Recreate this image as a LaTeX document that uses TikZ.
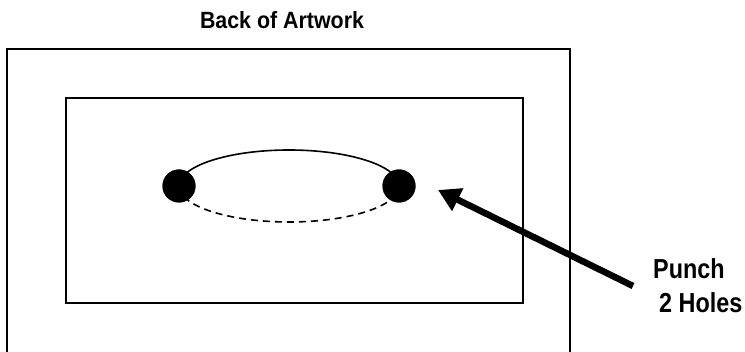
\documentclass[tikz,border=0pt]{standalone}
\usepackage{fontspec}
\setmainfont{Liberation Sans}
\usetikzlibrary{arrows.meta}
\tikzset{
  frame/.style={line width=2pt},
  hole/.style={circle, fill=black, inner sep=0pt, minimum size=33pt},
  lbl/.style={inner sep=0pt, font=\bfseries},
  punch/.style={line width=6.5pt, -{Triangle[length=22pt,width=24pt]}}
}
\begin{document}
\begin{tikzpicture}[x=1pt,y=1pt]
\useasboundingbox (0,0) rectangle (745,352);
% outer frame (open at bottom)
\draw[frame] (7,-2) -- (7,303) -- (570,303) -- (570,-2);
% inner frame
\draw[frame] (66,49) rectangle (523,254);
% holes
\node[hole] (h1) at (179,166) {};
\node[hole] (h2) at (399,166) {};
% arcs
\draw[line width=1.6pt] (h1.center) arc[start angle=180, end angle=0, x radius=110, y radius=36];
\draw[line width=1.6pt, dash pattern=on 7pt off 5pt] (h1.center) arc[start angle=180, end angle=360, x radius=110, y radius=36];
\node[hole] at (h1) {};
\node[hole] at (h2) {};
% labels
\node[lbl, anchor=base] (title) at (282,323) {\fontsize{23.5}{28}\selectfont\scalebox{0.91}[1]{Back of Artwork}};
\node[lbl, anchor=base west] (p1) at (653,73) {\fontsize{27.5}{32}\selectfont\scalebox{0.85}[1]{Punch}};
\node[lbl, anchor=base west] (p2) at (659,39) {\fontsize{27.5}{32}\selectfont\scalebox{0.85}[1]{2 Holes}};
% arrow
\coordinate (tail) at (633,66);
\draw[punch] (tail) -- (438,162);
\end{tikzpicture}
\end{document}
